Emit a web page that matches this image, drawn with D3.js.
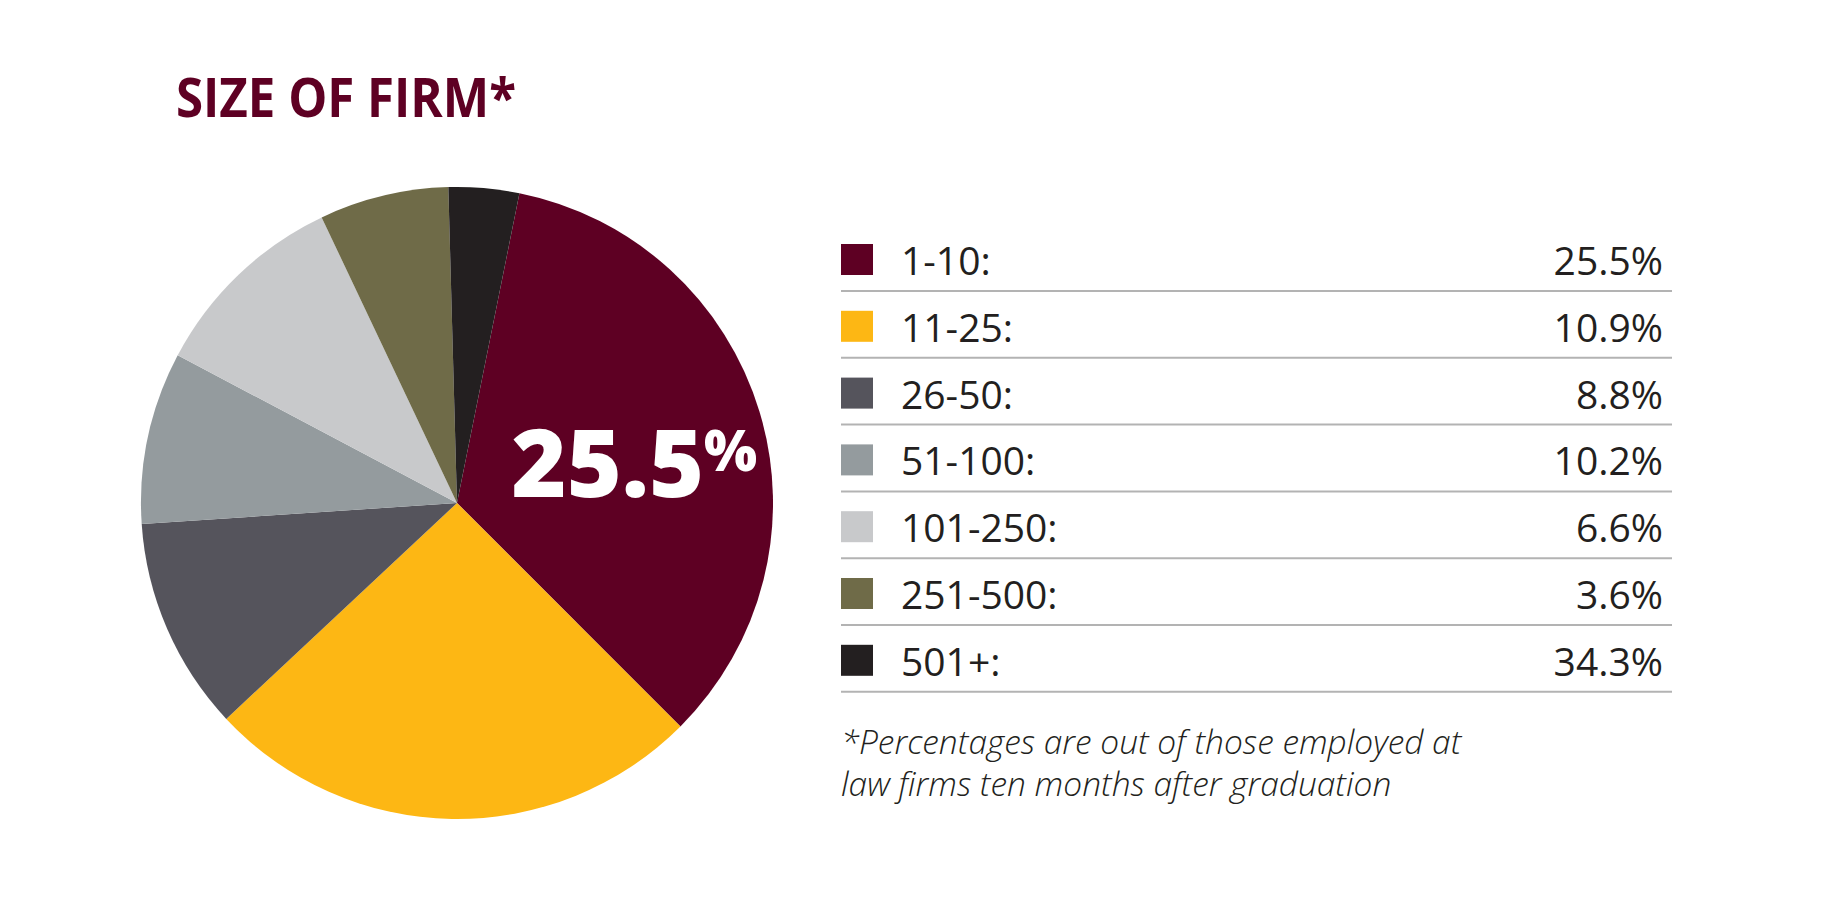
<!DOCTYPE html>
<html>
<head>
<meta charset="utf-8">
<script src="https://cdn.jsdelivr.net/npm/d3@7"></script>
<style>
  html, body { margin: 0; padding: 0; background: #ffffff; }
  svg { display: block; }
</style>
</head>
<body>
<svg id="chart" width="1836" height="900"></svg>
<script>
// ---- data ----
const title = "SIZE OF FIRM*";
const categories = ["1-10:", "11-25:", "26-50:", "51-100:", "101-250:", "251-500:", "501+:"];
const legendValues = [25.5, 10.9, 8.8, 10.2, 6.6, 3.6, 34.3];
// slice sizes as drawn in the pie, one per colour (same order as categories)
const sliceValues = [34.3, 25.5, 10.9, 8.8, 10.2, 6.6, 3.6];
const colors = ["#5e0023", "#fdb714", "#55545c", "#949b9e", "#c8c9cb", "#6f6b48", "#231f20"];
const footnote = ["*Percentages are out of those employed at", "law firms ten months after graduation"];

// ---- layout ----
const svg = d3.select("#chart");
svg.append("rect").attr("width", 1836).attr("height", 900).attr("fill", "#fff");

const cx = 457, cy = 503, R = 316;
const startDeg = 11.4;

svg.append("text")
  .attr("x", 176).attr("y", 117)
  .attr("font-family", "'Open Sans', sans-serif")
  .attr("font-weight", 700)
  .attr("font-size", 54)
  .attr("textLength", 340)
  .attr("lengthAdjust", "spacingAndGlyphs")
  .attr("fill", "#5e0023")
  .text(title);

const pie = d3.pie().sort(null).value(d => d.v)
  .startAngle(startDeg * Math.PI / 180)
  .endAngle(startDeg * Math.PI / 180 + 2 * Math.PI);
const arcs = pie(sliceValues.map((v, i) => ({ v, c: colors[i] })));
const arc = d3.arc().innerRadius(0).outerRadius(R);

const g = svg.append("g").attr("transform", `translate(${cx},${cy})`);
g.selectAll("path").data(arcs).join("path")
  .attr("d", arc)
  .attr("fill", d => d.data.c);

// big label in the first slice
const labelArc = d3.arc().innerRadius(0).outerRadius(360);
const [lx, ly] = labelArc.centroid(arcs[0]);
const big = g.append("text")
  .attr("x", lx + 5).attr("y", ly + 46)
  .attr("text-anchor", "middle")
  .attr("font-family", "'Open Sans', sans-serif")
  .attr("font-weight", 800)
  .attr("fill", "#fff");
big.append("tspan").attr("font-size", 94).text(d3.format(".1f")(legendValues[0]));
big.append("tspan").attr("font-size", 56).attr("dy", -26).text("%");

// ---- legend table ----
const lx0 = 841, lx1 = 1672, rowH = 66.8, base0 = 275;
const y = d3.scaleLinear().domain([0, 1]).range([base0, base0 + rowH]);
const rows = svg.append("g").selectAll("g").data(categories).join("g");
rows.append("rect")
  .attr("x", lx0).attr("width", 32)
  .attr("y", (d, i) => y(i) - 31).attr("height", 31)
  .attr("fill", (d, i) => colors[i]);
rows.append("text")
  .attr("x", 901).attr("y", (d, i) => y(i))
  .attr("font-family", "'Open Sans', sans-serif")
  .attr("font-size", 39)
  .attr("fill", "#231f20")
  .text(d => d);
rows.append("text")
  .attr("x", 1663).attr("y", (d, i) => y(i))
  .attr("text-anchor", "end")
  .attr("font-family", "'Open Sans', sans-serif")
  .attr("font-size", 39)
  .attr("fill", "#231f20")
  .text((d, i) => d3.format(".1f")(legendValues[i]) + "%");
rows.append("line")
  .attr("x1", lx0).attr("x2", lx1)
  .attr("y1", (d, i) => y(i) + 16).attr("y2", (d, i) => y(i) + 16)
  .attr("stroke", "#b3b3b3").attr("stroke-width", 2);

// footnote
svg.append("g").selectAll("text").data(footnote).join("text")
  .attr("x", 841).attr("y", (d, i) => 754 + i * 42)
  .attr("font-family", "'Open Sans', sans-serif")
  .attr("font-style", "italic")
  .attr("font-weight", 300)
  .attr("font-size", 33.5)
  .attr("fill", "#231f20")
  .text(d => d);
</script>
</body>
</html>
